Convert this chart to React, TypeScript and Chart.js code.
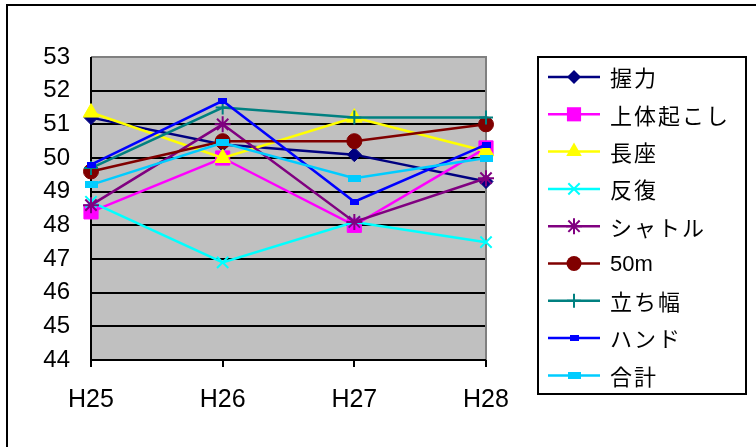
import React, { useEffect, useRef } from "react";
import { Chart, registerables } from "chart.js";

Chart.register(...registerables);

const categories = ["H25", "H26", "H27", "H28"];
const seriesNames = ["握力", "上体起こし", "長座", "反復", "シャトル", "50m", "立ち幅", "ハンド", "合計"];
const grip = [51.2, 50.4, 50.1, 49.3];
const situp = [48.4, 50.0, 48.0, 50.3];
const sitreach = [51.35, 50.0, 51.2, 50.2];
const sidestep = [48.7, 46.9, 48.1, 47.5];
const shuttle = [48.6, 51.0, 48.1, 49.4];
const dash50 = [49.6, 50.5, 50.5, 51.0];
const jump = [49.7, 51.5, 51.2, 51.2];
const handball = [49.8, 51.7, 48.7, 50.4];
const total = [49.2, 50.45, 49.4, 50.0];
const yTicks = [44, 45, 46, 47, 48, 49, 50, 51, 52, 53];

const seriesValues = [grip, situp, sitreach, sidestep, shuttle, dash50, jump, handball, total];
const colors = ["#000080", "#FF00FF", "#FFFF00", "#00FFFF", "#800080", "#800000", "#008080", "#0000FF", "#00CCFF"];

function rectCanvas(w: number, h: number, color: string) {
  const c = document.createElement("canvas");
  c.width = w;
  c.height = h;
  const ctx = c.getContext("2d")!;
  ctx.fillStyle = color;
  ctx.fillRect(0, 0, w, h);
  return c;
}

function drawMarker(ctx: CanvasRenderingContext2D, st: any, r: number, x: number, y: number) {
  if (typeof st !== "string") {
    ctx.drawImage(st, x - st.width / 2, y - st.height / 2);
    return;
  }
  ctx.beginPath();
  switch (st) {
    case "rectRot":
      ctx.moveTo(x, y - r);
      ctx.lineTo(x + r, y);
      ctx.lineTo(x, y + r);
      ctx.lineTo(x - r, y);
      ctx.closePath();
      ctx.fill();
      break;
    case "rect": {
      const s = Math.SQRT1_2 * r;
      ctx.rect(x - s, y - s, 2 * s, 2 * s);
      ctx.fill();
      break;
    }
    case "triangle":
      ctx.moveTo(x, y - r);
      ctx.lineTo(x + r * 0.866, y + r * 0.5);
      ctx.lineTo(x - r * 0.866, y + r * 0.5);
      ctx.closePath();
      ctx.fill();
      break;
    case "circle":
      ctx.arc(x, y, r, 0, Math.PI * 2);
      ctx.fill();
      break;
    case "cross":
      ctx.moveTo(x - r, y);
      ctx.lineTo(x + r, y);
      ctx.moveTo(x, y - r);
      ctx.lineTo(x, y + r);
      ctx.stroke();
      break;
    case "crossRot": {
      const s = Math.SQRT1_2 * r;
      ctx.moveTo(x - s, y - s);
      ctx.lineTo(x + s, y + s);
      ctx.moveTo(x - s, y + s);
      ctx.lineTo(x + s, y - s);
      ctx.stroke();
      break;
    }
    case "star": {
      const s = Math.SQRT1_2 * r;
      ctx.moveTo(x - s, y - s);
      ctx.lineTo(x + s, y + s);
      ctx.moveTo(x - s, y + s);
      ctx.lineTo(x + s, y - s);
      ctx.moveTo(x, y - r);
      ctx.lineTo(x, y + r);
      ctx.moveTo(x - r, y);
      ctx.lineTo(x + r, y);
      ctx.stroke();
      break;
    }
  }
}

export default function App() {
  const ref = useRef<HTMLCanvasElement>(null);
  useEffect(() => {
    document.body.style.margin = "0";
    const handImg = rectCanvas(9, 6, "#0000FF");
    const totalImg = rectCanvas(13, 7, "#00CCFF");
    const styles: any[] = ["rectRot", "rect", "triangle", "crossRot", "star", "circle", "cross", handImg, totalImg];
    const radii = [7, 10, 9, 8, 8, 7.5, 7, 5, 6];

    const datasets = seriesNames.map((name, i) => ({
      label: name,
      data: seriesValues[i],
      borderColor: colors[i],
      backgroundColor: colors[i],
      pointBackgroundColor: colors[i],
      pointBorderColor: colors[i],
      pointStyle: styles[i],
      pointRadius: radii[i],
      pointBorderWidth: i === 3 || i === 4 || i === 6 ? 2 : 1,
      borderWidth: 2.5,
      order: -i,
      clip: false as any,
      tension: 0,
    }));

    const bgPlugin = {
      id: "bg",
      beforeDraw(chart: any) {
        const { ctx, chartArea: a } = chart;
        ctx.save();
        ctx.fillStyle = "#C0C0C0";
        ctx.fillRect(a.left, a.top, a.right - a.left, a.bottom - a.top);
        ctx.strokeStyle = "#000";
        ctx.lineWidth = 2;
        ctx.beginPath();
        ctx.moveTo(7, 460);
        ctx.lineTo(7, 5);
        ctx.lineTo(760, 5);
        ctx.stroke();
        ctx.restore();
      },
      beforeDatasetsDraw(chart: any) {
        const { ctx, chartArea: a } = chart;
        ctx.save();
        ctx.strokeStyle = "#808080";
        ctx.lineWidth = 2;
        ctx.beginPath();
        ctx.moveTo(a.left, a.top);
        ctx.lineTo(a.right, a.top);
        ctx.lineTo(a.right, a.bottom);
        ctx.stroke();
        ctx.strokeStyle = "#000";
        ctx.beginPath();
        ctx.moveTo(a.left, a.top);
        ctx.lineTo(a.left, a.bottom);
        ctx.lineTo(a.right, a.bottom);
        ctx.stroke();
        ctx.restore();
      },
    };

    const legendPlugin = {
      id: "customLegend",
      afterDraw(chart: any) {
        const ctx = chart.ctx;
        ctx.save();
        ctx.fillStyle = "#fff";
        ctx.fillRect(538, 57, 208, 337);
        ctx.strokeStyle = "#000";
        ctx.lineWidth = 2;
        ctx.strokeRect(538, 57, 208, 337);
        const top = 77;
        const step = 37.3;
        chart.data.datasets.forEach((ds: any, i: number) => {
          const y = top + i * step;
          ctx.strokeStyle = ds.borderColor;
          ctx.lineWidth = 2.5;
          ctx.beginPath();
          ctx.moveTo(548, y);
          ctx.lineTo(600, y);
          ctx.stroke();
          ctx.fillStyle = ds.pointBackgroundColor;
          ctx.strokeStyle = ds.pointBorderColor;
          ctx.lineWidth = ds.pointBorderWidth;
          drawMarker(ctx, ds.pointStyle, ds.pointRadius, 574, y);
          ctx.fillStyle = "#000";
          const ascii = /^[\x00-\x7f]+$/.test(ds.label);
          ctx.font = ascii ? '22px "Liberation Sans", Arial' : '22px "Noto Sans CJK JP"';
          (ctx as any).letterSpacing = ascii ? "0px" : "2px";
          ctx.textBaseline = "middle";
          ctx.textAlign = "left";
          ctx.fillText(ds.label, 610, y + 1);
        });
        ctx.restore();
      },
    };

    const chart = new Chart(ref.current!, {
      type: "line",
      data: { labels: categories, datasets },
      options: {
        animation: false,
        responsive: false,
        maintainAspectRatio: false,
        layout: { autoPadding: false, padding: { left: 0, top: 57, right: 270, bottom: 0 } } as any,
        plugins: { legend: { display: false }, tooltip: { enabled: false } },
        elements: { line: { tension: 0 } },
        scales: {
          x: {
            type: "category",
            offset: false,
            grid: { drawOnChartArea: false, drawTicks: true, tickLength: 7, color: "#000", lineWidth: 2 },
            border: { display: false },
            ticks: { color: "#000", font: { family: '"Liberation Sans", Arial', size: 25 }, padding: 18, maxRotation: 0 },
            afterFit(scale: any) {
              scale.height = 87;
            },
          },
          y: {
            min: 44,
            max: 53,
            afterBuildTicks(scale: any) {
              scale.ticks = yTicks.map((v) => ({ value: v }));
            },
            grid: {
              drawTicks: false,
              color: (c: any) => (c.tick && c.tick.value === 53 ? "#808080" : "#000"),
              lineWidth: 2,
            },
            border: { display: false },
            ticks: { color: "#000", font: { family: '"Liberation Sans", Arial', size: 24 }, padding: 21, stepSize: 1 },
            afterFit(scale: any) {
              scale.width = 91;
            },
          },
        },
      },
      plugins: [bgPlugin, legendPlugin],
    });
    return () => chart.destroy();
  }, []);
  return <canvas ref={ref} width={756} height={447} style={{ display: "block", width: 756, height: 447 }} />;
}
